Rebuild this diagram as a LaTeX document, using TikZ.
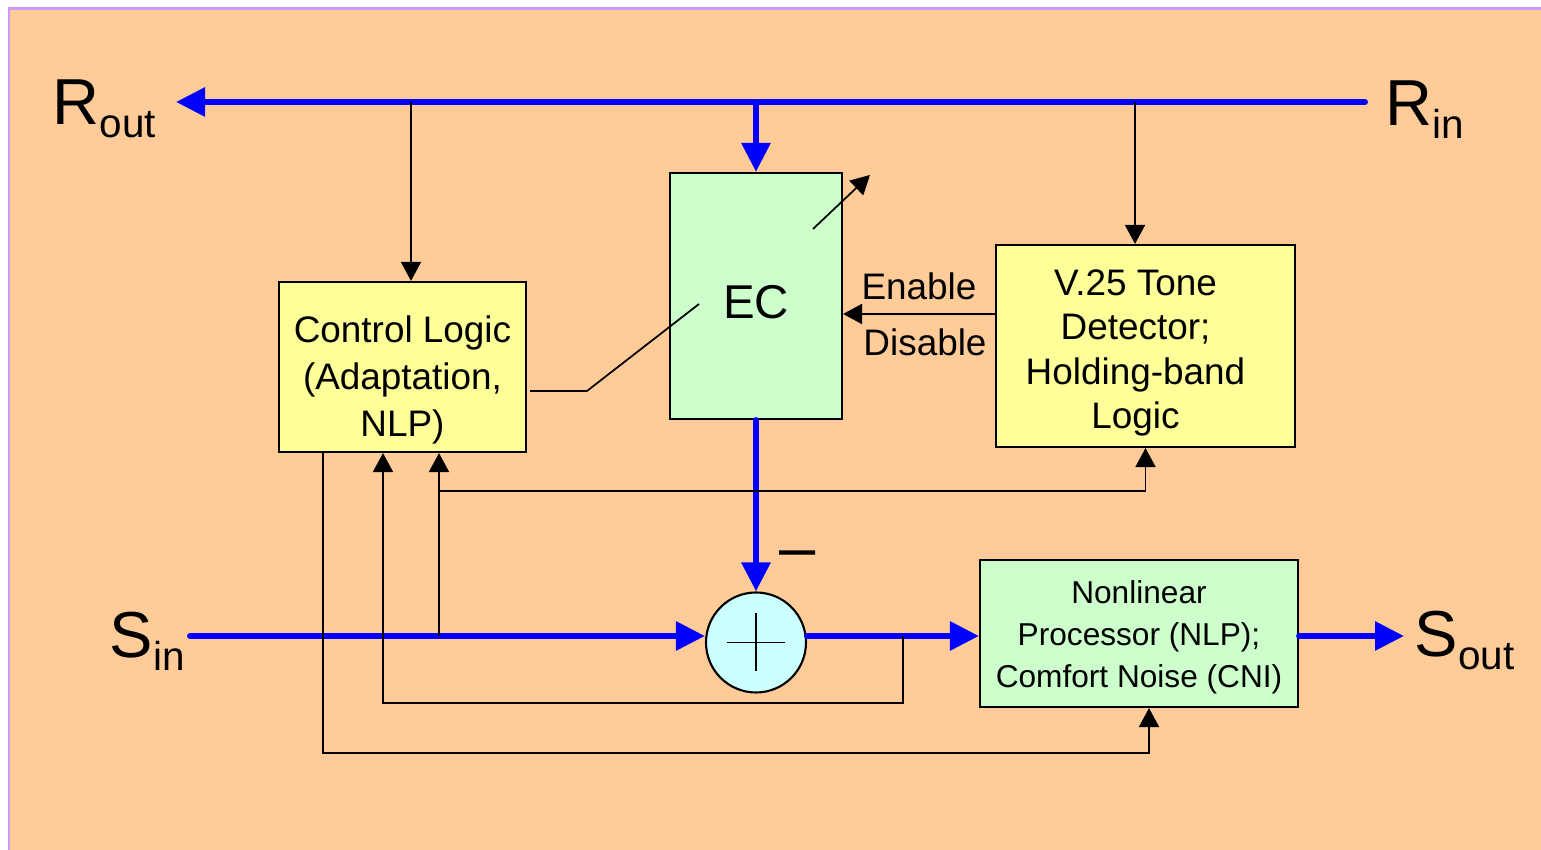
\documentclass[tikz,border=0pt]{standalone}
\usepackage{fontspec}
\setmainfont{Liberation Sans}
\usetikzlibrary{arrows.meta, positioning}
\definecolor{ecpeach}{RGB}{255,204,153}
\definecolor{ecframe}{RGB}{204,153,255}
\definecolor{ecyellow}{RGB}{255,255,153}
\definecolor{ecgreen}{RGB}{204,255,204}
\definecolor{eccyan}{RGB}{204,255,255}
\definecolor{ecblue}{RGB}{0,0,255}

\begin{document}
\begin{tikzpicture}[
  every node/.style={font=\fontsize{10.5}{13}\selectfont},
  yelbox/.style={rectangle, draw=black, fill=ecyellow, line width=0.6pt,
                 inner sep=0pt, align=center},
  grnbox/.style={rectangle, draw=black, fill=ecgreen, line width=0.6pt,
                 inner sep=0pt, align=center},
  boxtext/.style={inner sep=0pt, align=center},
  sumnode/.style={circle, draw=black, fill=eccyan, line width=0.6pt,
                  minimum size=1.0cm, inner sep=0pt},
  sig/.style={font=\fontsize{18.5}{20}\selectfont, inner sep=0pt, anchor=base west},
  bus/.style={-{Triangle[length=0.29cm, width=0.28cm]}, line width=1.7pt,
              color=ecblue, line cap=round},
  arr/.style={-{Triangle[length=0.19cm, width=0.2cm]}, line width=0.5pt},
  wire/.style={line width=0.5pt},
]

\useasboundingbox (0,0) rectangle (15.41,-8.50);
\draw[draw=ecframe, fill=ecpeach, line width=0.6pt] (0.09,-0.085) rectangle (15.80,-8.90);

% blocks
\node[yelbox, minimum width=2.47cm, minimum height=1.70cm] (ctrl) at (4.025,-3.67) {};
\node[boxtext, font=\fontsize{10.5}{13.3}\selectfont] (ctrltext) at ([yshift=-0.13cm]ctrl.center)
  {Control Logic\\(Adaptation,\\NLP)};
\node[grnbox, minimum width=1.72cm, minimum height=2.46cm] (ec) at (7.56,-2.96) {};
\node[boxtext, font=\fontsize{13.5}{16}\selectfont] (ectext) at ([yshift=-0.06cm]ec.center) {EC};
\node[yelbox, minimum width=2.99cm, minimum height=2.02cm] (tone) at (11.455,-3.46) {};
\node[boxtext, font=\fontsize{10.5}{12.7}\selectfont] (tonetext) at ([xshift=-0.10cm, yshift=-0.07cm]tone.center)
  {V.25 Tone\\Detector;\\Holding-band\\Logic};
\node[grnbox, minimum width=3.18cm, minimum height=1.47cm] (nlp) at (11.39,-6.335) {};
\node[boxtext, font=\fontsize{9}{12}\selectfont] (nlptext) at ([yshift=-0.04cm]nlp.center)
  {Nonlinear\\Processor (NLP);\\Comfort Noise (CNI)};
\node[sumnode] (sum) at (7.56,-6.425) {};
\draw[wire] (sum.center) ++(-0.29,0) -- ++(0.58,0);
\draw[wire] (sum.center) ++(0,-0.29) -- ++(0,0.58);

% signal labels
\node[sig] (Rout) at (0.52,-1.25) {R\raisebox{-3.7pt}{\fontsize{11.5}{12}\selectfont out}};
\node[sig] (Rin)  at (13.85,-1.26) {R\raisebox{-3.7pt}{\fontsize{11.5}{12}\selectfont in}};
\node[sig] (Sin)  at (1.09,-6.58) {S\raisebox{-3.7pt}{\fontsize{11.5}{12}\selectfont in}};
\node[sig] (Sout) at (14.14,-6.57) {S\raisebox{-3.7pt}{\fontsize{11.5}{12}\selectfont out}};
\node[font=\fontsize{18.5}{20}\selectfont, inner sep=0pt, anchor=base] (minus) at (7.98,-5.70) {–};

% points on the paths
\coordinate (rin)   at (13.65,-1.02);
\coordinate (rout)  at (1.76,-1.02);
\coordinate (tapA)  at (4.11,-1.02);
\coordinate (tapB)  at (7.56,-1.02);
\coordinate (tapC)  at (11.35,-1.02);
\coordinate (endis) at (0,-3.14);
\coordinate (sinL)  at (1.90,-6.36);
\coordinate (sinT)  at (4.39,-6.36);
\coordinate (midrow) at (4.39,-4.91);
\coordinate (fb)    at (9.03,-6.36);
\coordinate (fbx)   at (3.83,-7.03);
\coordinate (low)   at (3.23,-7.53);
\coordinate (lowup) at (11.49,-7.53);
\coordinate (soutT) at (14.04,-6.36);
\coordinate (ctlout) at (5.30,-3.91);
\coordinate (knee)  at (5.87,-3.91);
\coordinate (ecin)  at (6.99,-3.04);
\coordinate (vara)  at (8.13,-2.29);
\coordinate (varb)  at (8.70,-1.75);

% receive path
\draw[bus] (rin) -- (rout);
\draw[bus] (tapB) -- (ec.north);
\draw[arr] (tapA) -- (tapA |- ctrl.north);
\draw[arr] (tapC) -- (tapC |- tone.north);

% send path
\draw[bus] (sinL) -- (sinL -| sum.west);
\draw[bus] (ec.south) -- (sum.north);
\draw[bus] (sum.east |- sinL) -- (nlp.west |- sinL);
\draw[bus] (nlp.east |- sinL) -- (soutT);

% control wiring
\draw[arr] (tone.west |- endis) -- node[above=0.5pt]{Enable}
  node[below=0.5pt, xshift=0.06cm]{Disable} (ec.east |- endis);
\draw[wire] (ctlout) -- (knee) -- (ecin);
\draw[arr] (vara) -- (varb);
\draw[arr] (sinT) -- (sinT |- ctrl.south);
\draw[arr] (midrow) -| (tone.south);
\draw[arr] (fb) |- (fbx) -- (fbx |- ctrl.south);
\draw[arr] (ctrl.south -| low) -- (low) -- (lowup) -- (lowup |- nlp.south);

\end{tikzpicture}
\end{document}
